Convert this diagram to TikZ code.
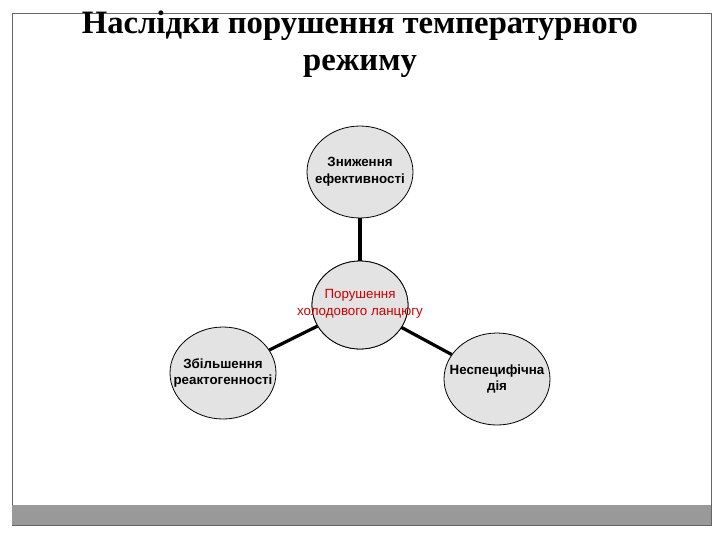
\documentclass[tikz,border=0pt]{standalone}
\usepackage{fontspec}
\setmainfont{Liberation Serif}
\newfontfamily\arial{Liberation Sans}
\usetikzlibrary{shapes.geometric}
\begin{document}
\begin{tikzpicture}[x=0.75pt,y=-0.75pt,
  bub/.style={ellipse,draw=black,line width=0.6pt,fill=gray!22,minimum width=106*0.75pt,minimum height=92*0.75pt,inner sep=0pt},
  lab/.style={align=center,font=\arial\bfseries\fontsize{10}{12.5}\selectfont},
  conn/.style={line width=2.4pt,black}]
\useasboundingbox (0,0) rectangle (720,540);
\draw[gray!80!black,line width=0.6pt] (12,13) rectangle (711,525);
\fill[gray!80] (12,505) rectangle (711,525);
\node[font=\bfseries\fontsize{24.5}{28}\selectfont,align=center] (title) at (360,44) {Наслідки порушення температурного\\режиму};
\node[bub] (top) at (360,172) {};
\node[bub,minimum width=96*0.75pt,minimum height=88*0.75pt] (c) at (360,305) {};
\node[bub] (l) at (223,373) {};
\node[bub] (r) at (497,379) {};
\draw[conn] (top) -- (c);
\draw[conn] (c) -- (l);
\draw[conn] (c) -- (r);
\node[bub,minimum width=96*0.75pt,minimum height=88*0.75pt] (c2) at (360,305) {};
\node[lab] (ttop) at (top) {Зниження\\ефективності};
\node[lab,font=\arial\fontsize{10}{12.5}\selectfont,text=red!80!black] (tc) at (360,304) {Порушення\\холодового ланцюгу};
\node[lab] (tl) at (l) {Збільшення\\реактогенності};
\node[lab] (tr) at (r) {Неспецифічна\\дія};
\end{tikzpicture}
\end{document}
